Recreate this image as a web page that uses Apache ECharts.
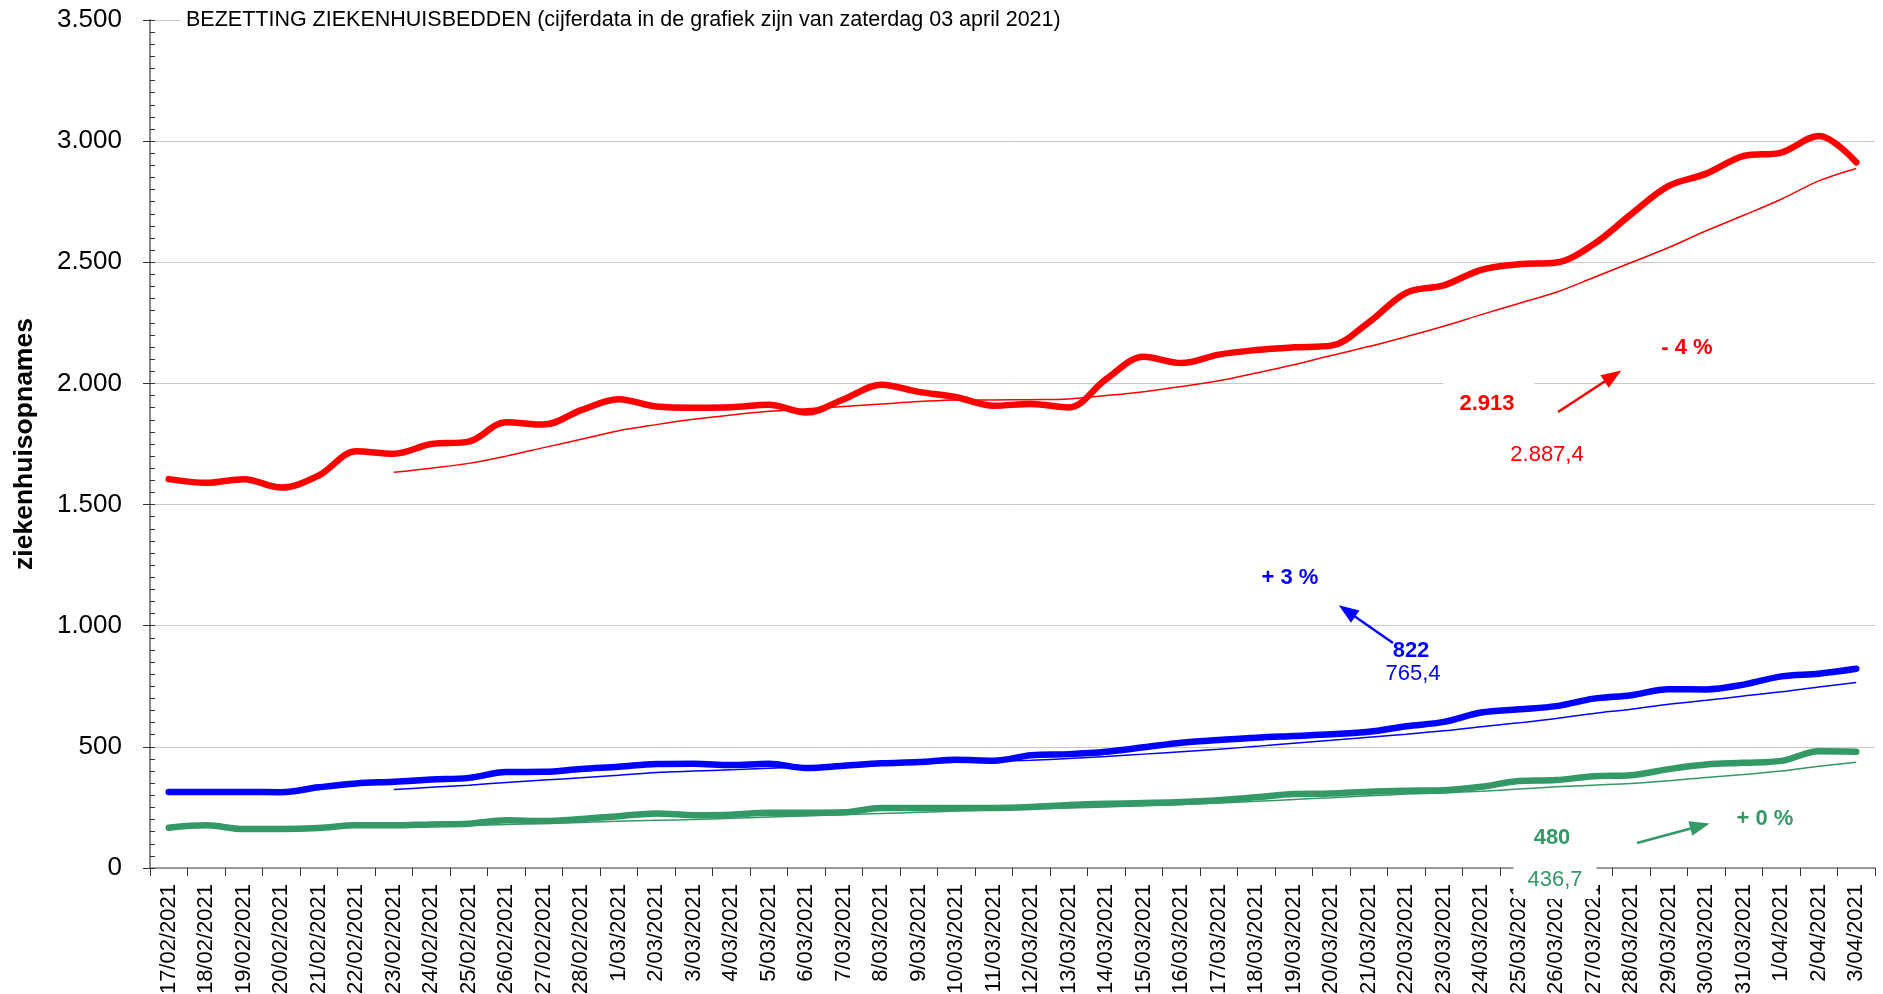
<!DOCTYPE html>
<html>
<head>
<meta charset="utf-8">
<title>Bezetting ziekenhuisbedden</title>
<script src="https://cdn.jsdelivr.net/npm/echarts@6/dist/echarts.min.js"></script>
<style>
  html, body { margin: 0; padding: 0; background: #fff; }
  #main { width: 1883px; height: 994px; }
</style>
</head>
<body>
<div id="main"></div>
<script>
// dagen
const dates = [
  '17/02/2021', '18/02/2021', '19/02/2021', '20/02/2021', '21/02/2021', '22/02/2021',
  '23/02/2021', '24/02/2021', '25/02/2021', '26/02/2021', '27/02/2021', '28/02/2021',
  '1/03/2021', '2/03/2021', '3/03/2021', '4/03/2021', '5/03/2021', '6/03/2021',
  '7/03/2021', '8/03/2021', '9/03/2021', '10/03/2021', '11/03/2021', '12/03/2021',
  '13/03/2021', '14/03/2021', '15/03/2021', '16/03/2021', '17/03/2021', '18/03/2021',
  '19/03/2021', '20/03/2021', '21/03/2021', '22/03/2021', '23/03/2021', '24/03/2021',
  '25/03/2021', '26/03/2021', '27/03/2021', '28/03/2021', '29/03/2021', '30/03/2021',
  '31/03/2021', '1/04/2021', '2/04/2021', '3/04/2021'
];

// totaal bezette bedden (rood)
const totaal = [
  1605, 1590, 1605, 1570, 1620, 1720, 1710, 1750, 1760, 1840, 1830, 1890,
  1935, 1905, 1900, 1902, 1912, 1880, 1935, 1995, 1965, 1943, 1908, 1915,
  1901, 2018, 2110, 2084, 2119, 2138, 2149, 2156, 2252, 2374, 2405, 2469,
  2492, 2499, 2575, 2699, 2815, 2866, 2939, 2953, 3021, 2913
];
// 7-daags gemiddelde (dunne rode lijn)
const totaalGem = [
  null, null, null, null, null, null,
  1633, 1650, 1670, 1700, 1735, 1770, 1805, 1830, 1852, 1870, 1885, 1895,
  1905, 1915, 1925, 1932, 1932, 1933, 1936, 1950, 1966, 1987, 2011, 2043,
  2077, 2115, 2152, 2193, 2236, 2284, 2330, 2376, 2437, 2499, 2561, 2630,
  2694, 2760, 2836, 2887.4
];

// intensieve zorg (blauw)
const iz = [
  314, 314, 314, 313, 333, 349, 356, 365, 372, 396, 397, 409,
  418, 429, 430, 425, 430, 413, 422, 432, 437, 447, 443, 465,
  470, 480, 498, 517, 528, 538, 545, 552, 562, 585, 603, 642,
  655, 668, 699, 713, 738, 737, 757, 791, 802, 822
];
const izGem = [
  null, null, null, null, null, null,
  324, 333, 342, 353, 363, 372, 383, 394, 400, 405, 412, 418,
  424, 428, 432, 436, 440, 445, 452, 460, 470, 480, 490, 502,
  515, 527, 540, 552, 566, 583, 599, 617, 638, 655, 676, 692,
  710, 727, 747, 765.4
];

// groen
const groen = [
  166, 176, 161, 161, 165, 176, 176, 180, 183, 197, 194, 202,
  214, 225, 218, 220, 228, 228, 230, 248, 248, 248, 248, 252,
  260, 265, 268, 272, 280, 292, 305, 307, 315, 319, 321, 335,
  359, 363, 379, 383, 408, 427, 434, 442, 482, 480
];
const groenGem = [
  null, null, null, null, null, null,
  170, 173, 176, 180, 184, 188, 193, 197, 200, 205, 210, 215,
  220, 225, 230, 235, 240, 244, 248, 252, 257, 262, 268, 275,
  283, 290, 298, 305, 310, 317, 326, 335, 342, 349, 360, 374,
  386, 400, 420, 436.7
];

// procentuele wijziging t.o.v. vorige dag
const wijziging = ['- 4 %', '+ 3 %', '+ 0 %'];

const ROOD = '#ff0000';
const BLAUW = '#0000ff';
const GROEN = '#339966';
const FONT = '"Liberation Sans", Arial, Helvetica, sans-serif';

// Nederlandse notatie: 2913 -> 2.913, 2887.4 -> 2.887,4
function nl(v, dec) {
  const parts = v.toFixed(dec).split('.');
  const int = parts[0].replace(/\B(?=(\d{3})+(?!\d))/g, '.');
  return parts.length > 1 ? int + ',' + parts[1] : int;
}

const last = totaal.length - 1;

function dik(name, data, color) {
  return {
    name: name,
    type: 'line',
    data: data,
    smooth: 0.35,
    showSymbol: false,
    z: 3,
    lineStyle: { color: color, width: 6.5, cap: 'round', join: 'round' },
    itemStyle: { color: color }
  };
}

function dun(name, data, color, pijl) {
  return {
    name: name,
    type: 'line',
    data: data,
    smooth: 0.35,
    showSymbol: false,
    z: 2,
    lineStyle: { color: color, width: 1.5 },
    itemStyle: { color: color },
    // pijltje naast de laatste waarde
    markLine: {
      silent: true,
      symbol: ['none', 'triangle'],
      symbolSize: [15, 20],
      label: { show: false },
      lineStyle: { color: color, width: 2.5, type: 'solid' },
      data: [[{ x: pijl[0], y: pijl[1] }, { x: pijl[2], y: pijl[3] }]]
    }
  };
}

function tekst(x, y, txt, color, bold, extra) {
  return {
    type: 'text',
    x: x,
    y: y,
    z: 20,
    style: Object.assign({
      text: txt,
      fill: color,
      font: (bold ? 'bold ' : '') + '22px ' + FONT,
      align: 'center',
      verticalAlign: 'middle'
    }, extra || {})
  };
}

const chart = echarts.init(document.getElementById('main'), null, { renderer: 'canvas' });

const option = {
  backgroundColor: '#ffffff',
  animation: false,
  title: {
    text: 'BEZETTING ZIEKENHUISBEDDEN (cijferdata in de grafiek zijn van zaterdag 03 april 2021)',
    left: 180,
    top: 6,
    z: 10,
    padding: [3, 840, 3, 6],
    backgroundColor: '#ffffff',
    textStyle: { fontFamily: FONT, fontSize: 21.5, fontWeight: 'normal', color: '#000' }
  },
  grid: {
    left: 150, right: 8, top: 20, bottom: 126,
    containLabel: false,
    outerBoundsMode: 'none'
  },
  xAxis: {
    type: 'category',
    data: dates,
    boundaryGap: true,
    axisLine: { lineStyle: { color: '#808080', width: 1.5 } },
    axisTick: { show: true, length: 8, lineStyle: { color: '#333' } },
    axisLabel: {
      interval: 0,
      rotate: 90,
      margin: 16,
      fontFamily: FONT,
      fontSize: 22,
      color: '#000'
    },
    splitLine: { show: false }
  },
  yAxis: [
    {
      type: 'value',
      min: 0,
      max: 3500,
      interval: 500,
      name: 'ziekenhuisopnames',
      nameLocation: 'middle',
      nameRotate: 90,
      nameGap: 112,
      nameTextStyle: { fontFamily: FONT, fontSize: 26.5, fontWeight: 'bold', color: '#000' },
      axisLine: { show: true, lineStyle: { color: '#808080', width: 1.5 } },
      axisTick: { show: true, length: 7, lineStyle: { color: '#333' } },
      axisLabel: {
        margin: 28,
        fontFamily: FONT,
        fontSize: 26,
        color: '#000',
        formatter: function (v) { return nl(v, 0); }
      },
      splitLine: { show: true, lineStyle: { color: '#c8c8c8', width: 1 } }
    },
    {
      // kleine streepjes binnen de as
      type: 'value',
      position: 'left',
      min: 0,
      max: 3500,
      interval: 50,
      axisLine: { show: true, lineStyle: { color: '#808080', width: 1.5 } },
      axisTick: { show: true, inside: true, length: 5, lineStyle: { color: '#333' } },
      axisLabel: { show: false },
      splitLine: { show: false }
    }
  ],
  series: [
    dun('totaal gem.', totaalGem, ROOD, [1558, 412, 1613, 376]),
    dun('IZ gem.', izGem, BLAUW, [1393, 643, 1347, 611]),
    dun('groen gem.', groenGem, GROEN, [1637, 843, 1700, 826]),
    dik('totaal', totaal, ROOD),
    dik('IZ', iz, BLAUW),
    dik('groen', groen, GROEN)
  ],
  graphic: [
    tekst(1687, 348, wijziging[0], ROOD, true),
    tekst(1489, 404, nl(totaal[last], 0), ROOD, true,
      { backgroundColor: '#ffffff', padding: [12, 20, 8, 16] }),
    tekst(1547, 455, nl(totaalGem[last], 1), ROOD, false),

    tekst(1290, 578, wijziging[1], BLAUW, true),
    tekst(1411, 651, nl(iz[last], 0), BLAUW, true),
    tekst(1413, 674, nl(izGem[last], 1), BLAUW, false),

    tekst(1765, 819, wijziging[2], GROEN, true),
    tekst(1552, 838, nl(groen[last], 0), GROEN, true),
    tekst(1555, 880, nl(groenGem[last], 1), GROEN, false,
      { backgroundColor: '#ffffff', padding: [6, 14, 10, 14] })
  ]
};

chart.setOption(option);
</script>
</body>
</html>
